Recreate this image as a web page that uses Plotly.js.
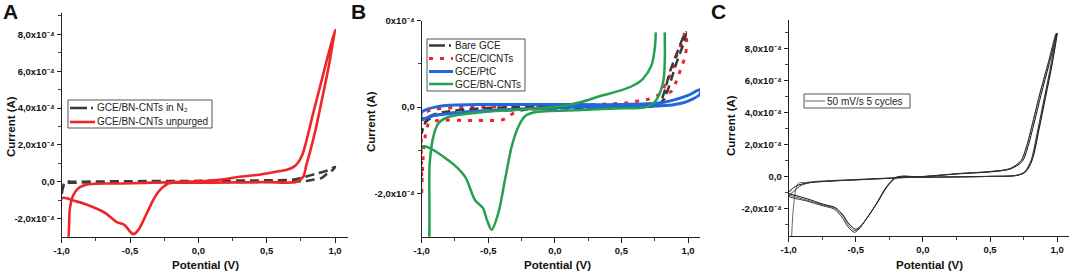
<!DOCTYPE html>
<html><head><meta charset="utf-8">
<script src="https://cdn.plot.ly/plotly-3.0.1.min.js"></script>
<style>html,body{margin:0;padding:0;background:#fff}#chart{width:1072px;height:273px}</style>
</head><body><div id="chart"></div>
<script>
// ---------- DATA (potential in V, current in units of 1e-4 A) ----------
// Panel A
const aN2Potential = [-1.0,-0.976,-0.9,-0.5,0.0,0.5,0.7,0.78,0.87,0.96,1.0,0.97,0.94,0.9,0.83,0.78,0.6,0.0,-0.5,-0.9,-0.976,-1.0];
const aN2Current   = [-0.6,-0.03,0.0,0.03,0.05,0.08,0.12,0.27,0.45,0.65,0.81,0.55,0.42,0.2,0.1,0.04,0.0,-0.02,-0.04,-0.05,-0.1,-0.7];
const aUnpPotential = [0.0,0.2,0.3,0.41,0.5,0.6,0.66,0.7,0.73,0.76,0.79,0.84,0.89,0.94,1.0,
  0.99,0.95,0.90,0.86,0.82,0.79,0.767,0.72,0.5,0.2,0.0,-0.17,
  -0.22,-0.27,-0.317,-0.378,-0.44,-0.476,-0.5,-0.54,-0.6,-0.68,-0.81,-0.9,-1.0,-1.0,
  -0.963,-0.94,-0.915,-0.88,-0.805,-0.56,-0.22,0.0];
const aUnpCurrent = [0.02,0.15,0.27,0.35,0.45,0.58,0.68,0.82,1.05,1.45,2.2,3.71,5.15,6.6,8.25,
  7.8,6.1,4.3,2.9,1.7,0.9,0.27,0.0,-0.02,-0.04,-0.05,-0.05,
  -0.09,-0.36,-0.81,-1.72,-2.62,-2.84,-2.7,-2.35,-2.17,-1.7,-1.26,-1.05,-0.9,-3.5,
  -3.5,-1.43,-0.72,-0.36,-0.14,-0.09,-0.03,0.02];

// Panel B
const bBarePotential = [-1.0,-0.95,-0.8,-0.55,-0.3,0.0,0.5,0.75,0.788,0.825,0.863,0.9,0.938,0.975,0.985,
  0.97,0.94,0.9,0.86,0.82,0.78,0.5,0.0,-0.4,-0.6,-0.8,-0.9,-0.97,-1.0];
const bBareCurrent = [-0.6,-0.23,-0.1,-0.03,0.0,0.03,0.05,0.08,0.1,0.38,0.81,1.12,1.42,1.7,1.73,
  1.5,1.25,0.9,0.5,0.2,0.05,0.0,-0.03,-0.08,-0.1,-0.14,-0.2,-0.35,-0.6];
const bClPotential = [-1.0,-1.0,-0.98,-0.9,-0.5,0.0,0.44,0.55,0.64,0.71,0.79,0.84,0.875,0.91,0.95,0.98,
  0.99,0.98,0.95,0.91,0.88,0.85,0.79,0.6,0.2,-0.2,-0.3,-0.36,-0.4,-0.6,-0.9,-0.95,-0.975,-0.99,-1.0];
const bClCurrent = [-1.6,-0.5,-0.15,-0.05,0.0,0.03,0.08,0.1,0.15,0.19,0.31,0.58,0.81,1.15,1.46,1.73,
  1.54,1.19,0.92,0.58,0.38,0.31,0.08,0.02,-0.02,-0.05,-0.12,-0.25,-0.3,-0.31,-0.32,-0.4,-0.7,-1.2,-2.0];
const bPtcPotential = [-1.0,-0.95,-0.9,-0.8,-0.55,0.0,0.5,0.8,0.9,1.0,1.09,
  1.09,1.0,0.9,0.8,0.5,0.2,-0.3,-0.675,-0.9,-1.0,-1.0];
const bPtcCurrent = [-0.12,-0.04,0.0,0.04,0.06,0.06,0.06,0.1,0.17,0.27,0.4,
  0.3,0.14,0.06,0.03,0.02,0.0,-0.05,-0.12,-0.19,-0.27,-0.12];
const bBnPotential = [0.758,0.75,0.725,0.66,0.588,0.49,0.337,0.2,0.0,-0.55,-0.8,-0.875,-0.913,-0.94,-0.963,
  -1.0,-1.0,-0.8,-0.675,-0.6,-0.54,-0.51,-0.475,-0.425,-0.375,-0.325,-0.275,-0.225,-0.15,0.2,0.45,0.688,0.75,0.813,0.825];
const bBnCurrent = [1.73,1.35,0.96,0.65,0.5,0.38,0.25,0.12,0.0,-0.12,-0.23,-0.38,-0.69,-1.3,-3.5,
  -3.5,-0.92,-1.23,-1.61,-2.15,-2.34,-2.61,-2.84,-2.46,-1.69,-0.92,-0.46,-0.21,-0.12,-0.07,-0.03,0.0,0.115,0.58,1.73];

// Panel C (three of the five overlapping cycles)
const cCycle1Potential = [-0.978,-0.93,-0.88,-0.8,-0.7,-0.5,-0.2,0.0,0.28,0.5,0.65,0.736,0.773,0.823,0.873,0.935,0.997,
  0.96,0.91,0.86,0.81,0.761,0.7,0.5,0.28,0.0,-0.195,-0.27,-0.344,-0.419,-0.469,-0.506,-0.556,-0.593,-0.655,-0.742,-0.866,-1.0];
const cCycle1Current = [-3.7,-0.42,-0.36,-0.29,-0.24,-0.17,-0.06,0.02,0.21,0.33,0.52,1.04,1.87,3.53,5.2,7.07,8.93,
  7.07,4.98,2.91,1.04,0.31,0.1,0.03,0.0,-0.02,-0.02,-0.62,-1.66,-2.59,-3.15,-3.36,-3.01,-2.49,-1.97,-1.76,-1.45,-1.14];
const cCycle2Potential = [-1.0,-0.95,-0.9,-0.8,-0.7,-0.5,-0.2,0.0,0.28,0.5,0.65,0.74,0.78,0.83,0.88,0.94,1.0,
  0.965,0.915,0.865,0.815,0.765,0.7,0.5,0.28,0.0,-0.19,-0.265,-0.34,-0.415,-0.465,-0.5,-0.55,-0.59,-0.65,-0.74,-0.86,-1.0];
const cCycle2Current = [-0.95,-0.6,-0.45,-0.33,-0.27,-0.19,-0.07,0.01,0.19,0.3,0.48,0.95,1.8,3.4,5.1,7.0,8.95,
  7.1,5.0,2.95,1.06,0.3,0.08,0.02,-0.01,-0.03,-0.03,-0.6,-1.62,-2.55,-3.08,-3.27,-2.95,-2.45,-1.93,-1.72,-1.38,-1.05];
const cCycle3Potential = [-1.0,-0.96,-0.92,-0.85,-0.7,-0.5,-0.2,0.0,0.28,0.5,0.65,0.73,0.77,0.82,0.87,0.93,0.99,
  0.955,0.905,0.855,0.805,0.757,0.7,0.5,0.28,0.0,-0.2,-0.275,-0.35,-0.425,-0.475,-0.51,-0.56,-0.6,-0.66,-0.75,-0.87,-1.0];
const cCycle3Current = [-1.2,-0.9,-0.6,-0.38,-0.28,-0.2,-0.08,0.0,0.2,0.32,0.5,1.0,1.85,3.45,5.15,7.0,8.9,
  7.05,4.95,2.9,1.02,0.3,0.09,0.02,-0.01,-0.03,-0.04,-0.66,-1.72,-2.66,-3.25,-3.46,-3.1,-2.56,-2.02,-1.8,-1.5,-1.2];

// ---------- LABELS ----------
const xTickVals = [-1,-0.5,0,0.5,1];
const xTickText = ['-1,0','-0,5','0,0','0,5','1,0'];
const aYTickVals = [-2,0,2,4,6,8];
const aYTickText = ['-2,0x10⁻⁴','0,0','2,0x10⁻⁴','4,0x10⁻⁴','6,0x10⁻⁴','8,0x10⁻⁴'];
const bYTickVals = [-2,0,2];
const bYTickText = ['-2,0x10⁻⁴','0,0','0x10⁻⁴'];
const cYTickVals = [-2,0,2,4,6,8];
const cYTickText = aYTickText;

// ---------- LAYOUT HELPERS ----------
const W = 1072, H = 273;
const X = p => p / W;
const Y = p => 1 - p / H;
const FONT = 'Liberation Sans, Arial, Noto Sans, DejaVu Sans, sans-serif';

const RED = 'rgb(238,38,40)', GREEN = 'rgb(36,160,78)', BLUE = 'rgb(34,104,220)', DARK = 'rgb(58,58,58)';

function xAxis(l, r, range) {
  return {domain:[X(l),X(r)], range:range, showline:true, linecolor:'#222', linewidth:1,
    ticks:'outside', ticklen:5, tickwidth:1, tickcolor:'#222', showgrid:false, zeroline:false,
    tickmode:'array', tickvals:xTickVals, ticktext:xTickText,
    tickfont:{family:FONT, size:9.5, color:'#111', weight:'bold'},
    minor:{ticks:'outside', ticklen:3, tickcolor:'#444', tickmode:'array', tickvals:[-0.75,-0.25,0.25,0.75], showgrid:false},
    fixedrange:true};
}
function yAxis(t, b, range, vals, text, minorVals) {
  return {domain:[Y(b),Y(t)], range:range, showline:true, linecolor:'#222', linewidth:1,
    ticks:'outside', ticklen:4, tickwidth:1, tickcolor:'#222', showgrid:false, zeroline:false,
    tickmode:'array', tickvals:vals, ticktext:text,
    tickfont:{family:FONT, size:9.5, color:'#111', weight:'bold'},
    minor:{ticks:'outside', ticklen:2.5, tickcolor:'#444', tickmode:'array', tickvals:minorVals, showgrid:false},
    fixedrange:true};
}

const sp = {shape:'spline', smoothing:0.85};
const traces = [
  {x:aN2Potential, y:aN2Current, xaxis:'x', yaxis:'y', mode:'lines', name:'GCE/BN-CNTs in N₂',
   line:Object.assign({color:DARK, width:2.5, dash:'9px,5px'}, sp)},
  {x:aUnpPotential, y:aUnpCurrent, xaxis:'x', yaxis:'y', mode:'lines', name:'GCE/BN-CNTs unpurged',
   line:Object.assign({color:RED, width:2.6}, sp)},

  {x:bClPotential, y:bClCurrent, xaxis:'x2', yaxis:'y2', mode:'lines', name:'GCE/ClCNTs',
   line:Object.assign({color:RED, width:3, dash:'4px,7px'}, sp)},
  {x:bBarePotential, y:bBareCurrent, xaxis:'x2', yaxis:'y2', mode:'lines', name:'Bare GCE',
   line:Object.assign({color:DARK, width:2.5, dash:'9px,5px'}, sp)},
  {x:bPtcPotential, y:bPtcCurrent, xaxis:'x2', yaxis:'y2', mode:'lines', name:'GCE/PtC',
   line:Object.assign({color:BLUE, width:3}, sp)},
  {x:bBnPotential, y:bBnCurrent, xaxis:'x2', yaxis:'y2', mode:'lines', name:'GCE/BN-CNTs',
   line:Object.assign({color:GREEN, width:2.5}, sp)},

  {x:cCycle1Potential, y:cCycle1Current, xaxis:'x3', yaxis:'y3', mode:'lines', name:'50 mV/s 5 cycles',
   line:Object.assign({color:'#6a6a6a', width:1}, sp)},
  {x:cCycle2Potential, y:cCycle2Current, xaxis:'x3', yaxis:'y3', mode:'lines', name:'cycle 2',
   line:Object.assign({color:'#111', width:1}, sp)},
  {x:cCycle3Potential, y:cCycle3Current, xaxis:'x3', yaxis:'y3', mode:'lines', name:'cycle 3',
   line:Object.assign({color:'#333', width:1}, sp)}
];

// ---------- LEGENDS (drawn as boxes + samples + text) ----------
const shapes = [], annotations = [];
function legendBox(x0,y0,x1,y1){
  shapes.push({type:'rect', xref:'paper', yref:'paper', x0:X(x0), x1:X(x1), y0:Y(y1), y1:Y(y0),
    line:{color:'#555', width:1}, fillcolor:'rgba(255,255,255,0)', layer:'above'});
}
function legendItem(x0,x1,y,line,text,tx){
  shapes.push({type:'line', xref:'paper', yref:'paper', x0:X(x0), x1:X(x1), y0:Y(y), y1:Y(y), line:line, layer:'above'});
  annotations.push({xref:'paper', yref:'paper', x:X(tx), y:Y(y), xanchor:'left', yanchor:'middle', showarrow:false,
    text:text, font:{family:FONT, size:10, color:'#222'}});
}
legendBox(68,100,212,128);
legendItem(70,95,108,{color:DARK,width:2.5,dash:'17px,4px,2px,10px'},'GCE/BN-CNTs in N₂',95);
legendItem(70,95,122,{color:RED,width:2.6},'GCE/BN-CNTs unpurged',95);

legendBox(427,39,525,91);
legendItem(429,453,45.5,{color:DARK,width:2.5,dash:'16px,4px,2px,10px'},'Bare GCE',453);
legendItem(429,453,58.5,{color:RED,width:3,dash:'4px,7px'},'GCE/ClCNTs',453);
legendItem(429,453,71.5,{color:BLUE,width:3},'GCE/PtC',453);
legendItem(429,453,84,{color:GREEN,width:2.5},'GCE/BN-CNTs',453);

legendBox(804,94,910,108);
legendItem(805,825,101,{color:'#666',width:1},'50 mV/s 5 cycles',825);

// ---------- TITLES & PANEL LETTERS ----------
function ann(text,x,y,size,angle){
  annotations.push({xref:'paper', yref:'paper', x:X(x), y:Y(y), xanchor:'center', yanchor:'middle', showarrow:false,
    text:text, textangle:angle||0, font:{family:FONT, size:size, color:'#111', weight:'bold'}});
}
ann('Current (A)',11,127,11.5,-90);
ann('Current (A)',371,122,11.5,-90);
ann('Current (A)',731,126,11.5,-90);
ann('Potential (V)',205,265,11.5);
ann('Potential (V)',557,265,11.5);
ann('Potential (V)',929,265,11.5);
ann('A',10,12,21);
ann('B',358,12,21);
ann('C',718,12,21);

const layout = {
  width:W, height:H, margin:{l:0,r:0,t:0,b:0}, paper_bgcolor:'#fff', plot_bgcolor:'#fff',
  showlegend:false, font:{family:FONT},
  xaxis: Object.assign(xAxis(61.7,348,[-1,1.095]), {anchor:'y'}),
  yaxis: Object.assign(yAxis(13.3,236.7,[-2.98,9.14],aYTickVals,aYTickText,[-1,1,3,5,7,9]), {anchor:'x'}),
  xaxis2: Object.assign(xAxis(421.7,700,[-1,1.09]), {anchor:'y2'}),
  yaxis2: Object.assign(yAxis(20.7,236.7,[-3,2],bYTickVals,bYTickText,[-1,1]), {anchor:'x2'}),
  xaxis3: Object.assign(xAxis(788.7,1068.7,[-1,1.086]), {anchor:'y3'}),
  yaxis3: Object.assign(yAxis(20,236,[-3.69,9.76],cYTickVals,cYTickText,[-3,-1,1,3,5,7,9]), {anchor:'x3'}),
  shapes:shapes, annotations:annotations
};
Plotly.newPlot('chart', traces, layout, {staticPlot:true, displayModeBar:false});
</script></body></html>
